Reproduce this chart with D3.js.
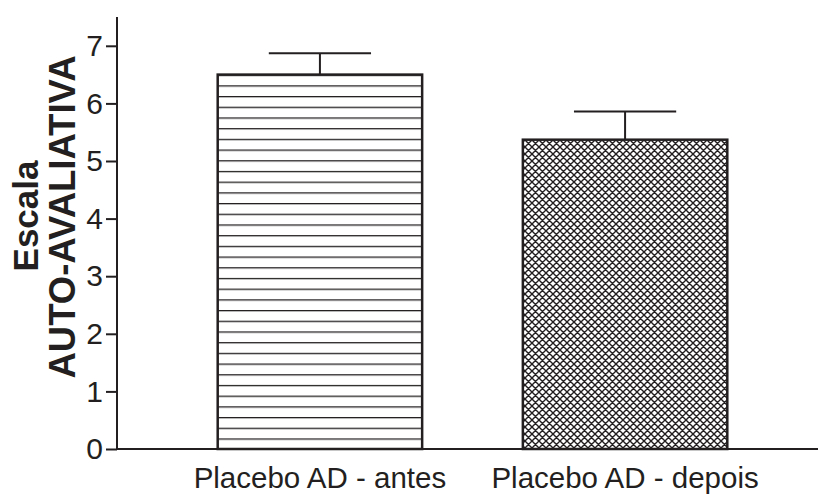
<!DOCTYPE html>
<html>
<head>
<meta charset="utf-8">
<script src="https://cdn.jsdelivr.net/npm/d3@7"></script>
<style>
  body { margin: 0; background: #fff; }
  svg text { font-family: "Liberation Sans", Arial, Helvetica, sans-serif; fill: #231f20; }
</style>
</head>
<body>
<div id="chart"></div>
<script>
// data
var categories = ['Placebo AD - antes', 'Placebo AD - depois'];
var means = [6.5, 5.37];
var errors = [0.37, 0.49];
var yTicks = [0, 1, 2, 3, 4, 5, 6, 7];
var patterns = ['hlines', 'crosshatch'];

var width = 818, height = 495, ink = '#231f20';

var svg = d3.select('#chart').append('svg')
    .attr('width', width)
    .attr('height', height);

var y = d3.scaleLinear().domain([0, 7.5]).range([449, 17]);
var x = d3.scaleBand().domain(categories).range([117, 828])
    .paddingInner(0.33).paddingOuter(0.33);

//patterns
var defs = svg.append('defs');
var hl = defs.append('pattern')
    .attr('id', 'hlines')
    .attr('patternUnits', 'userSpaceOnUse')
    .attr('width', 10).attr('height', 10.7)
    .attr('y', y(means[0]));
hl.append('line')
    .attr('x1', 0).attr('x2', 10).attr('y1', 0).attr('y2', 0)
    .attr('stroke', ink).attr('stroke-width', 2.6);

var ch = defs.append('pattern')
    .attr('id', 'crosshatch')
    .attr('patternUnits', 'userSpaceOnUse')
    .attr('width', 7).attr('height', 7);
ch.append('path')
    .attr('d', 'M-1,1 l2,-2 M0,7 l7,-7 M6,8 l2,-2 M-1,6 l2,2 M0,0 l7,7 M6,-1 l2,2')
    .attr('stroke', ink).attr('stroke-width', 1.4).attr('fill', 'none');

//bars
svg.selectAll('.bar')
    .data(categories)
  .enter().append('rect')
    .attr('class', 'bar')
    .attr('x', function(d) { return x(d); })
    .attr('y', function(d, i) { return y(means[i]); })
    .attr('width', x.bandwidth())
    .attr('height', function(d, i) { return y(0) - y(means[i]); })
    .attr('fill', function(d, i) { return 'url(#' + patterns[i] + ')'; })
    .attr('stroke', ink)
    .attr('stroke-width', 2.5);

//error bars
var eb = svg.selectAll('.err')
    .data(categories)
  .enter().append('g')
    .attr('class', 'err')
    .attr('stroke', ink)
    .attr('stroke-width', 2);
eb.append('line')
    .attr('x1', function(d) { return x(d) + x.bandwidth() / 2; })
    .attr('x2', function(d) { return x(d) + x.bandwidth() / 2; })
    .attr('y1', function(d, i) { return y(means[i]); })
    .attr('y2', function(d, i) { return y(means[i] + errors[i]); });
eb.append('line')
    .attr('x1', function(d) { return x(d) + x.bandwidth() / 4; })
    .attr('x2', function(d) { return x(d) + x.bandwidth() * 3 / 4; })
    .attr('y1', function(d, i) { return y(means[i] + errors[i]); })
    .attr('y2', function(d, i) { return y(means[i] + errors[i]); });

//axes
svg.append('line')
    .attr('x1', 117).attr('x2', 117).attr('y1', y(7.5)).attr('y2', y(0))
    .attr('stroke', ink).attr('stroke-width', 2);
svg.append('line')
    .attr('x1', 117).attr('x2', width).attr('y1', y(0)).attr('y2', y(0))
    .attr('stroke', ink).attr('stroke-width', 2);

var yAxis = svg.append('g')
    .attr('transform', 'translate(117,0)')
    .call(d3.axisLeft(y).tickValues(yTicks).tickSize(11).tickPadding(3).tickFormat(d3.format('d')));
yAxis.select('.domain').remove();
yAxis.selectAll('.tick line').attr('stroke', ink).attr('stroke-width', 2);
yAxis.selectAll('.tick text')
    .style('font-size', '30px')
    .attr('fill', ink);

//category labels
svg.selectAll('.cat')
    .data(categories)
  .enter().append('text')
    .attr('class', 'cat')
    .attr('x', function(d) { return x(d) + x.bandwidth() / 2; })
    .attr('y', 487.5)
    .attr('text-anchor', 'middle')
    .style('font-size', '29.5px')
    .text(function(d) { return d; });

//y title
svg.append('text')
    .attr('transform', 'translate(38,216) rotate(-90)')
    .attr('text-anchor', 'middle')
    .style('font-size', '35px')
    .style('font-weight', 'bold')
    .text('Escala');
svg.append('text')
    .attr('transform', 'translate(75,217) rotate(-90)')
    .attr('text-anchor', 'middle')
    .style('font-size', '36.5px')
    .style('font-weight', 'bold')
    .text('AUTO-AVALIATIVA');
</script>
</body>
</html>
